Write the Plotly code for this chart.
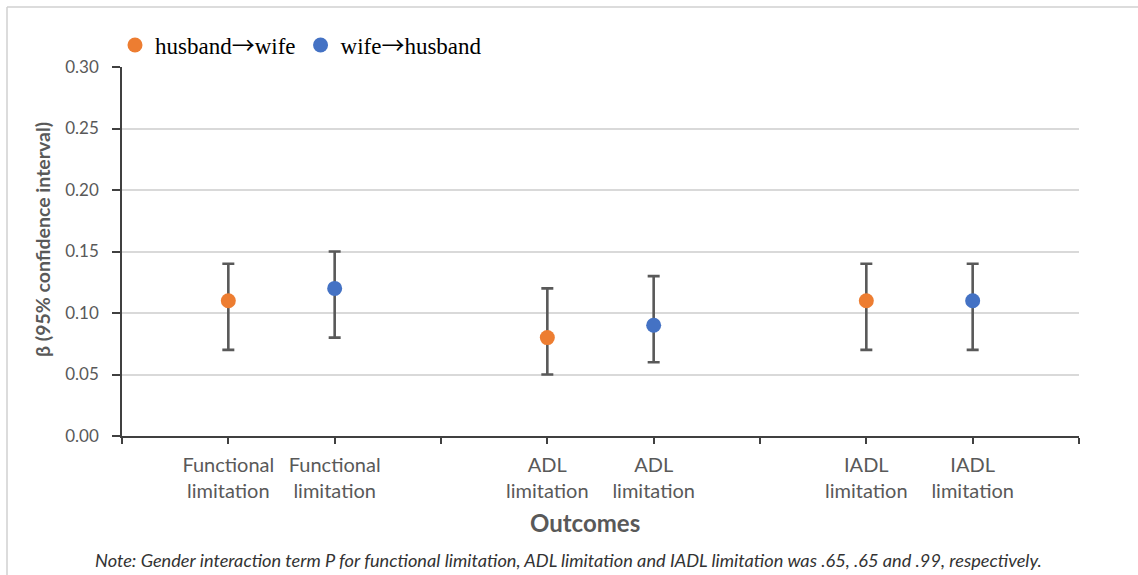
import plotly.graph_objects as go

# ---- data ----
categories = ["Functional limitation", "ADL limitation", "IADL limitation"]
arrow = '<span style="font-family:\'Noto Sans CJK SC\'">→</span>'
hw_name = "husband" + arrow + "wife"
wh_name = "wife" + arrow + "husband"
hw_beta = [0.11, 0.08, 0.11]
hw_lo = [0.07, 0.05, 0.07]
hw_hi = [0.14, 0.12, 0.14]
wh_beta = [0.12, 0.09, 0.11]
wh_lo = [0.08, 0.06, 0.07]
wh_hi = [0.15, 0.13, 0.14]
y_ticks = [0.00, 0.05, 0.10, 0.15, 0.20, 0.25, 0.30]
note = ("Note: Gender interaction term P for functional limitation, ADL limitation and IADL "
        "limitation was .65, .65 and .99, respectively.")

# slot positions: each outcome takes 3 slots (husband, wife, gap)
hw_x = [3 * i + 1 for i in range(len(categories))]
wh_x = [3 * i + 2 for i in range(len(categories))]
n_slots = 3 * len(categories)
tickvals = list(range(n_slots + 1))
ticktext = [""] * (n_slots + 1)
for i, c in enumerate(categories):
    lab = c.replace(" ", "<br>")
    ticktext[hw_x[i]] = lab
    ticktext[wh_x[i]] = lab

ORANGE = "#ED7D31"
BLUE = "#4472C4"
ERR = "#595959"
TXT = "#595959"

def err(beta, lo, hi):
    return dict(type="data", symmetric=False,
                array=[h - b for b, h in zip(beta, hi)],
                arrayminus=[b - l for b, l in zip(beta, lo)],
                color=ERR, thickness=2.6, width=6)

fig = go.Figure()
fig.add_trace(go.Scatter(x=hw_x, y=hw_beta, mode="markers", name=hw_name,
                         marker=dict(color=ORANGE, size=15),
                         error_y=err(hw_beta, hw_lo, hw_hi)))
fig.add_trace(go.Scatter(x=wh_x, y=wh_beta, mode="markers", name=wh_name,
                         marker=dict(color=BLUE, size=15),
                         error_y=err(wh_beta, wh_lo, wh_hi)))

W, H = 1138, 575
L, R, T, B = 122, 1079, 67, 436

def px(x):
    return (x - L) / (R - L)

def py(y):
    return (B - y) / (B - T)

fig.update_layout(
    width=W, height=H,
    margin=dict(l=L, r=W - R, t=T, b=H - B),
    paper_bgcolor="white", plot_bgcolor="white",
    font=dict(family="Lato", color=TXT),
    showlegend=True,
    legend=dict(orientation="h", x=px(115), y=py(45), xanchor="left", yanchor="middle",
                font=dict(family="Liberation Serif", size=23, color="#000000"),
                bgcolor="rgba(0,0,0,0)", itemsizing="trace", tracegroupgap=0),
    xaxis=dict(range=[0, n_slots], tickmode="array", tickvals=tickvals, ticktext=ticktext,
               showgrid=False, zeroline=False, showline=True, linecolor="#404040", linewidth=1.5,
               ticks="outside", ticklen=6, tickcolor="#404040", tickwidth=1.5,
               ticklabelstandoff=4,
               tickfont=dict(family="Lato", size=20, color=TXT)),
    yaxis=dict(range=[0, 0.30], tickmode="array", tickvals=y_ticks, tickformat=".2f",
               showgrid=True, gridcolor="#D9D9D9", gridwidth=1.5, zeroline=False,
               showline=True, linecolor="#404040", linewidth=1.5,
               ticks="outside", ticklen=8, tickcolor="#404040", tickwidth=1.5,
               ticklabelstandoff=10,
               tickfont=dict(family="Lato", size=17, color=TXT)),
)

# frame lines (top and left border of the picture)
fig.add_shape(type="line", xref="paper", yref="paper", x0=px(7), x1=px(W), y0=py(7), y1=py(7),
              line=dict(color="#D0D0D0", width=1.5))
fig.add_shape(type="line", xref="paper", yref="paper", x0=px(7), x1=px(7), y0=py(7), y1=py(H),
              line=dict(color="#D0D0D0", width=1.5))

fig.add_annotation(text="<b>β (95% confidence interval)</b>", xref="paper", yref="paper",
                   x=px(42), y=py(240), textangle=-90, showarrow=False,
                   xanchor="center", yanchor="middle",
                   font=dict(family="Lato", size=19.5, color=TXT))
fig.add_annotation(text="<b>Outcomes</b>", xref="paper", yref="paper",
                   x=px(585), y=py(522), showarrow=False, xanchor="center", yanchor="middle",
                   font=dict(family="Lato", size=24, color=TXT))
fig.add_annotation(text="<i>" + note + "</i>", xref="paper", yref="paper",
                   x=px(568), y=py(560), showarrow=False, xanchor="center", yanchor="middle",
                   font=dict(family="Lato", size=18.2, color="#333333"))

fig.write_html("out.html", config={"displayModeBar": False},
               post_script="document.body.style.margin='0';")
